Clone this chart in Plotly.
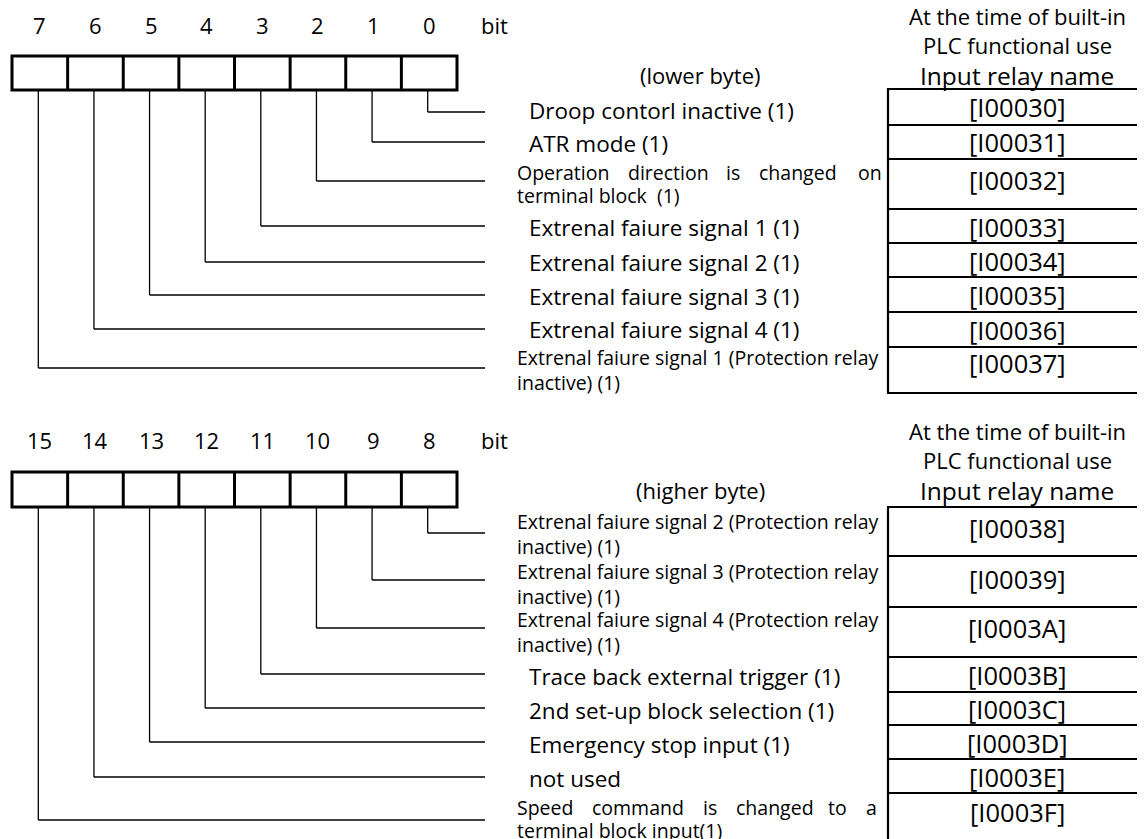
import plotly.graph_objects as go

# ---------------- data ----------------
low_bits = [7, 6, 5, 4, 3, 2, 1, 0]
high_bits = [15, 14, 13, 12, 11, 10, 9, 8]

# labels in bit order (bit 0 .. bit 7), "\n" = second line
low_labels = [
    "Droop contorl inactive (1)",
    "ATR mode (1)",
    "Operation direction is changed on\nterminal block\u00a0 (1)",
    "Extrenal faiure signal 1 (1)",
    "Extrenal faiure signal 2 (1)",
    "Extrenal faiure signal 3 (1)",
    "Extrenal faiure signal 4 (1)",
    "Extrenal faiure signal 1 (Protection relay\ninactive) (1)",
]
# bit 8 .. bit 15
high_labels = [
    "Extrenal faiure signal 2 (Protection relay\ninactive) (1)",
    "Extrenal faiure signal 3 (Protection relay\ninactive) (1)",
    "Extrenal faiure signal 4 (Protection relay\ninactive) (1)",
    "Trace back external trigger (1)",
    "2nd set-up block selection (1)",
    "Emergency stop input (1)",
    "not used",
    "Speed command is changed to a\nterminal block input(1)",
]
low_relays = ["[I00030]", "[I00031]", "[I00032]", "[I00033]",
              "[I00034]", "[I00035]", "[I00036]", "[I00037]"]
high_relays = ["[I00038]", "[I00039]", "[I0003A]", "[I0003B]",
               "[I0003C]", "[I0003D]", "[I0003E]", "[I0003F]"]
header_lines = ["At the time of built-in", "PLC functional use"]
column_title = "Input relay name"
byte_titles = ["(lower byte)", "(higher byte)"]
bit_word = "bit"

# ---------------- layout (pixel geometry of the page) ----------------
W, H = 1145, 839
PAGE_MARGIN = 8          # default body margin of the html page
FONT = "Open Sans"
BOX_L, BOX_R = 12, 457
LINE_END = 485
LABEL_X_BIG, LABEL_X_SMALL = 528, 516
TABLE_L, TABLE_R, TABLE_CX = 888, 1160, 1017
HEAD_CX, BYTE_CX = 1017, 700
BIG, SMALL, HEAD, COLT, NUM, CELL = 22.5, 19.5, 22, 24.5, 22, 25.5
LINE2 = 23.5             # second-line offset of two-line labels

sections = [
    dict(bits=low_bits, labels=low_labels, relays=low_relays, title=byte_titles[0],
         num_y=25, box_top=56, box_bot=90, head_y=[17, 42, 75],
         line_y=[112, 142, 181, 226, 262, 295, 329, 368],
         label_y=[110, 143, 172, 227, 262, 296, 329, 358],
         rows=[89, 125, 159, 209, 243, 277, 312, 347, 393],
         cell_y=[107, 142, 180, 227, 261, 295, 330, 363],
         justify={2: [516, 627, 725, 758, 857]}),
    dict(bits=high_bits, labels=high_labels, relays=high_relays, title=byte_titles[1],
         num_y=440, box_top=472, box_bot=507, head_y=[432, 458, 490],
         line_y=[533, 580, 628, 674, 708, 742, 777, 820],
         label_y=[522, 572, 620, 676, 710, 744, 778, 807],
         rows=[507, 556, 607, 657, 692, 725, 759, 793, 870],
         cell_y=[528, 579, 628, 675, 709, 743, 777, 812],
         justify={7: [516, 591, 702, 735, 827, 865]}),
]

fig = go.Figure()
shapes, annos = [], []


def text(x, y, s, size, xanchor="center", align="center"):
    annos.append(dict(x=x, y=y, xref="x", yref="y", text=s, showarrow=False,
                      xanchor=xanchor, yanchor="middle", borderpad=0, align=align,
                      font=dict(family=FONT, size=size, color="black")))


def line(x0, y0, x1, y1, w):
    shapes.append(dict(type="line", xref="x", yref="y", x0=x0, y0=y0, x1=x1, y1=y1,
                       line=dict(color="black", width=w)))


cw = (BOX_R - BOX_L) / 8.0
for sec in sections:
    # bit numbers
    for i, b in enumerate(sec["bits"]):
        text(BOX_L + cw * (i + 0.5), sec["num_y"], str(b), NUM)
    text(480, sec["num_y"], bit_word, NUM, xanchor="left")
    # register box
    shapes.append(dict(type="rect", xref="x", yref="y", x0=BOX_L, x1=BOX_R,
                       y0=sec["box_top"], y1=sec["box_bot"],
                       line=dict(color="black", width=3)))
    for k in range(1, 8):
        xk = BOX_L + cw * k
        line(xk, sec["box_top"], xk, sec["box_bot"], 3)
    # connectors + labels
    for j in range(8):
        cell = 7 - j
        xc = BOX_L + cw * (cell + 0.5) - 1.5
        ly = sec["line_y"][j]
        line(xc, sec["box_bot"], xc, ly, 1.3)
        line(xc, ly, LINE_END, ly, 1.3)
        lab = sec["labels"][j]
        ty = sec["label_y"][j]
        if "\n" in lab:
            first, second = lab.split("\n")
            if j in sec["justify"]:
                for wx, word in zip(sec["justify"][j], first.split(" ")):
                    text(wx, ty, word, SMALL, xanchor="left")
                text(LABEL_X_SMALL, ty + LINE2, second, SMALL, xanchor="left")
            else:
                text(LABEL_X_SMALL, ty + LINE2 / 2, first + "<br>" + second, SMALL,
                     xanchor="left", align="left")
        else:
            text(LABEL_X_BIG, ty, lab, BIG, xanchor="left")
        # relay table cell
        text(TABLE_CX, sec["cell_y"][j], sec["relays"][j], CELL)
    # headers
    hy = sec["head_y"]
    text(HEAD_CX, (hy[0] + hy[1]) / 2 + 0.5, header_lines[0] + "<br>" + header_lines[1], HEAD)
    text(HEAD_CX, hy[2], column_title, COLT)
    text(BYTE_CX, hy[2], sec["title"], HEAD)
    # table
    rows = sec["rows"]
    line(TABLE_L, rows[0], TABLE_L, rows[-1], 2.2)
    for r in rows:
        line(TABLE_L - 1, r, TABLE_R, r, 2.2)

fig.update_layout(
    width=W - PAGE_MARGIN, height=H - PAGE_MARGIN,
    margin=dict(l=0, r=0, t=0, b=0, pad=0),
    paper_bgcolor="white", plot_bgcolor="white",
    xaxis=dict(range=[PAGE_MARGIN, W], visible=False, fixedrange=True),
    yaxis=dict(range=[H, PAGE_MARGIN], visible=False, fixedrange=True),
    shapes=shapes, annotations=annos, showlegend=False,
)
fig.write_html("out.html", config={"displayModeBar": False})
